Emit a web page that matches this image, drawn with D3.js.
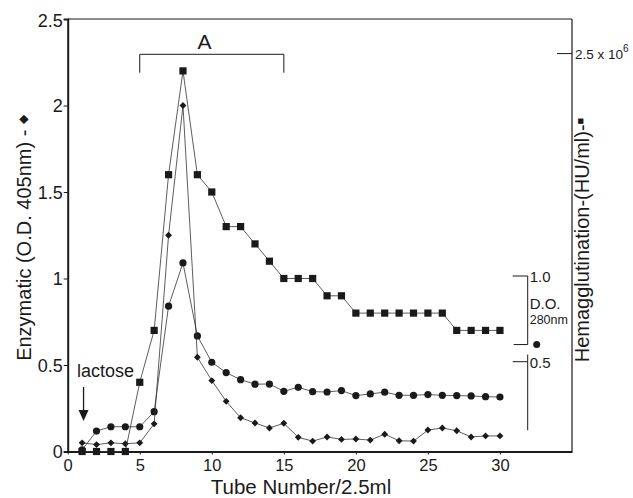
<!DOCTYPE html>
<html>
<head>
<meta charset="utf-8">
<script src="https://cdn.jsdelivr.net/npm/d3@7"></script>
<style>
  body { margin: 0; background: #fff; }
  svg { font-family: "Liberation Sans", Arial, sans-serif; }
</style>
</head>
<body>
<svg id="chart" width="633" height="498"></svg>
<script>
// tube numbers
var tubes = d3.range(1, 31)
// enzymatic O.D. 405nm (diamonds)
var enzymatic = [0.05, 0.04, 0.05, 0.045, 0.05, 0.16, 1.25, 2.0, 0.545, 0.41,
  0.29, 0.195, 0.165, 0.136, 0.163, 0.082, 0.06, 0.084, 0.07, 0.072,
  0.066, 0.10, 0.062, 0.06, 0.124, 0.136, 0.12, 0.084, 0.09, 0.09]
// D.O. 280nm (circles), on left axis units
var od280 = [0.01, 0.118, 0.143, 0.143, 0.143, 0.23, 0.84, 1.09, 0.668, 0.516,
  0.456, 0.415, 0.389, 0.39, 0.348, 0.371, 0.346, 0.344, 0.352, 0.323,
  0.333, 0.343, 0.325, 0.325, 0.329, 0.325, 0.323, 0.321, 0.317, 0.315]
// hemagglutination (squares), on left axis units
var hemagg = [0, 0, 0, 0, 0.4, 0.7, 1.6, 2.2, 1.6, 1.5,
  1.3, 1.3, 1.2, 1.1, 1.0, 1.0, 1.0, 0.9, 0.9, 0.8,
  0.8, 0.8, 0.8, 0.8, 0.8, 0.8, 0.7, 0.7, 0.7, 0.7]

var xTicks = [0, 5, 10, 15, 20, 25, 30]
var yTicks = [0, 0.5, 1, 1.5, 2, 2.5]
var yTickLabels = ['0', '0.5', '1', '1.5', '2', '2.5']
var hemTickValue = 2.3
var doTicks = [1.0, 0.5]
var doTickLabels = ['1.0', '0.5']
var doDotValue = 0.6
var bracketRange = [5, 15]

var svg = d3.select('#chart')
var x = d3.scaleLinear().domain([0, 35]).range([67.7, 572])
var y = d3.scaleLinear().domain([0, 2.5]).range([451.5, 19])
var yDo = d3.scaleLinear().domain([0.5, 1.0]).range([361.7, 276])
var ink = '#1a1a1a'

// frame
svg.append('line').attr('x1', x(0)).attr('x2', x(35)).attr('y1', y(2.5)).attr('y2', y(2.5))
  .attr('stroke', ink).attr('stroke-width', 1)
svg.append('line').attr('x1', x(35)).attr('x2', x(35)).attr('y1', y(2.5)).attr('y2', y(0))
  .attr('stroke', ink).attr('stroke-width', 1.2)

// left axis
var yAxis = d3.axisLeft(y).tickValues(yTicks).tickSize(4)
  .tickFormat(function(d, i) { return yTickLabels[i] })
var gy = svg.append('g').attr('transform', 'translate(' + x(0) + ',0)').call(yAxis)
gy.select('.domain').attr('stroke', ink).attr('stroke-width', 2)
gy.selectAll('.tick line').attr('stroke', ink)
gy.selectAll('.tick text').attr('font-size', 18).attr('fill', ink).attr('x', -5).attr('dy', '0.36em')
gy.selectAll('.tick').filter(function(d) { return d === 2.5 }).select('text').attr('dy', '0.42em')

// bottom axis
var xAxis = d3.axisBottom(x).tickValues(xTicks).tickSize(3).tickSizeOuter(0)
var gx = svg.append('g').attr('transform', 'translate(0,' + y(0) + ')').call(xAxis)
gx.select('.domain').attr('stroke', ink).attr('stroke-width', 2)
gx.selectAll('.tick line').attr('stroke', ink)
gx.selectAll('.tick text').attr('font-size', 16.5).attr('fill', ink).attr('y', 8)

// axis titles
svg.append('text').attr('transform', 'translate(301,494)').attr('text-anchor', 'middle')
  .attr('font-size', 20.5).attr('fill', ink).text('Tube Number/2.5ml')
var lt = svg.append('text').attr('transform', 'translate(31,238) rotate(-90)').attr('text-anchor', 'middle')
  .attr('font-size', 20).attr('fill', ink).text('Enzymatic (O.D. 405nm) - ')
lt.append('tspan').attr('font-size', 12).attr('dy', -4).text('\u25C6')
var rt = svg.append('text').attr('transform', 'translate(589,240) rotate(-90)').attr('text-anchor', 'middle')
  .attr('font-size', 20).attr('fill', ink).text('Hemagglutination-(HU/ml)-')
rt.append('tspan').attr('font-size', 11).attr('dy', -5).text('\u25A0')

// right hemagglutination tick
svg.append('line').attr('x1', x(35) - 15).attr('x2', x(35)).attr('y1', y(hemTickValue)).attr('y2', y(hemTickValue))
  .attr('stroke', ink)
var ht = svg.append('text').attr('x', x(35) + 3).attr('y', y(hemTickValue) + 5)
  .attr('font-size', 13.5).attr('fill', ink).text('2.5 x 10')
ht.append('tspan').attr('dy', -7).attr('font-size', 10).text('6')

// D.O. 280nm inner axis
var doX = 527.7
svg.append('line').attr('x1', doX).attr('x2', doX).attr('y1', yDo(1.0)).attr('y2', yDo(doDotValue))
  .attr('stroke', ink)
svg.append('line').attr('x1', doX).attr('x2', doX).attr('y1', yDo(doDotValue) + 10).attr('y2', yDo(0.1))
  .attr('stroke', ink)
doTicks.forEach(function(t, i) {
  svg.append('line').attr('x1', doX - 15).attr('x2', doX).attr('y1', yDo(t)).attr('y2', yDo(t)).attr('stroke', ink)
  svg.append('text').attr('x', doX + 2).attr('y', yDo(t) + 6).attr('font-size', 15).attr('fill', ink).text(doTickLabels[i])
})
svg.append('line').attr('x1', doX - 14).attr('x2', doX).attr('y1', yDo(doDotValue)).attr('y2', yDo(doDotValue)).attr('stroke', ink)
svg.append('circle').attr('cx', doX + 9).attr('cy', yDo(doDotValue)).attr('r', 3.5).attr('fill', ink)
svg.append('text').attr('x', doX + 2).attr('y', 309).attr('font-size', 15).attr('fill', ink).text('D.O.')
svg.append('text').attr('x', doX + 2).attr('y', 324).attr('font-size', 12.5).attr('fill', ink).text('280nm')

// bracket A
svg.append('path')
  .attr('d', 'M' + x(bracketRange[0]) + ',72.7V54.3H' + x(bracketRange[1]) + 'V72.7')
  .attr('fill', 'none').attr('stroke', ink).attr('stroke-width', 1)
svg.append('text').attr('x', x(9.5)).attr('y', 49).attr('text-anchor', 'middle')
  .attr('font-size', 21).attr('fill', ink).text('A')

// lactose arrow
svg.append('text').attr('x', 77).attr('y', 377).attr('font-size', 18).attr('fill', ink).text('lactose')
svg.append('line').attr('x1', x(1.1)).attr('x2', x(1.1)).attr('y1', 387).attr('y2', 412).attr('stroke', ink).attr('stroke-width', 1.3)
svg.append('path').attr('d', 'M' + (x(1.1) - 5) + ',410L' + (x(1.1) + 5) + ',410L' + x(1.1) + ',421Z').attr('fill', ink)

// series
var line = d3.line().x(function(d) { return x(d[0]) }).y(function(d) { return y(d[1]) })
function pairs(vals) { return tubes.map(function(t, i) { return [t, vals[i]] }) }

function drawSeries(vals, shape) {
  var pts = pairs(vals)
  svg.append('path').attr('d', line(pts)).attr('fill', 'none').attr('stroke', '#333').attr('stroke-width', 0.8)
  var g = svg.append('g')
  pts.forEach(function(p) {
    var cx = x(p[0]), cy = y(p[1])
    if (shape === 'square') {
      g.append('rect').attr('x', cx - 3.6).attr('y', cy - 3.6).attr('width', 7.2).attr('height', 7.2).attr('fill', ink)
    } else if (shape === 'circle') {
      g.append('circle').attr('cx', cx).attr('cy', cy).attr('r', 3.6).attr('fill', ink)
    } else {
      g.append('path').attr('d', d3.symbol(d3.symbolDiamond2, 30)()).attr('transform', 'translate(' + cx + ',' + cy + ')').attr('fill', ink)
    }
  })
}
drawSeries(od280, 'circle')
drawSeries(enzymatic, 'diamond')
drawSeries(hemagg, 'square')
</script>
</body>
</html>
